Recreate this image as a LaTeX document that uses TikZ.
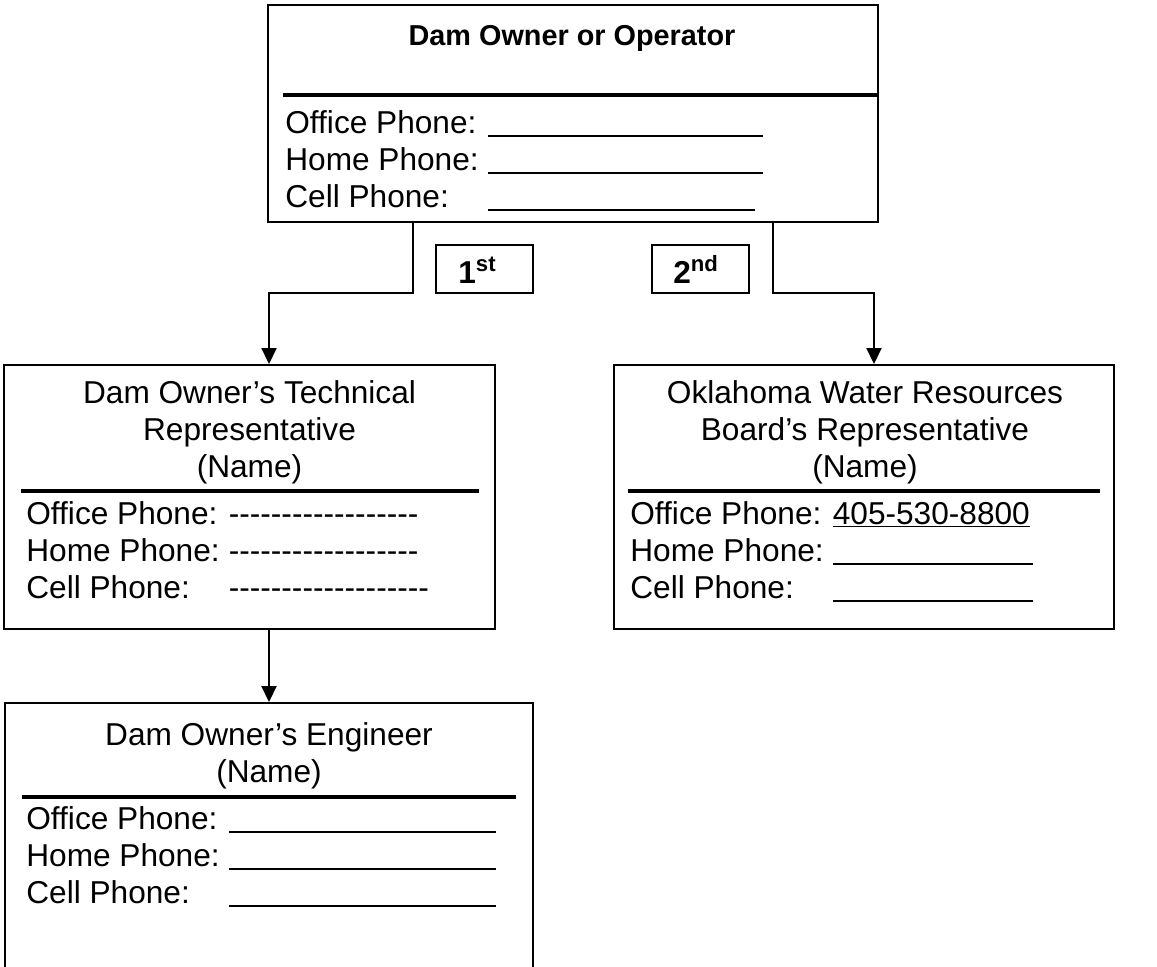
\documentclass[tikz,border=0pt]{standalone}
\usepackage{fontspec}
\setmainfont{Liberation Sans}[Ligatures=TeXOff]
\usetikzlibrary{arrows.meta}

\tikzset{
	box/.style={draw, line width=1.1pt, inner sep=0pt},
	rankbox/.style={draw, line width=1.1pt, minimum width=1.94cm, minimum height=0.96cm, inner sep=0pt},
	sepline/.style={line width=2.3pt},
	link/.style={line width=1.1pt, -{Triangle[length=0.32cm,width=0.30cm]}},
	txt/.style={font=\fontsize{18}{21}\selectfont, inner sep=0pt},
	entry/.style={txt, anchor=base west},
	boldtxt/.style={font=\fontsize{16.4}{20}\selectfont\bfseries, inner sep=0pt},
	ranktxt/.style={font=\fontsize{18}{21}\selectfont\bfseries, inner sep=0pt, anchor=base west}
}
\newcommand{\blank}[1]{\rule[-2.5pt]{#1}{1.1pt}}
\newcommand{\lbl}[1]{\makebox[4.05cm][l]{#1}}

\begin{document}
\begin{tikzpicture}
	\useasboundingbox (0,0) rectangle (23.14,-19.34);
	\clip (0,0) rectangle (23.14,-19.34);
	
	%boxes
	\node[box, minimum width=12.2cm, minimum height=4.34cm] (owner) at (11.46,-2.27) {};
	\node[rankbox] (first)  at (9.69,-5.38)  {};
	\node[rankbox] (second) at (14.01,-5.38) {};
	\node[box, minimum width=9.82cm, minimum height=5.28cm]  (tech) at (4.99,-9.94)  {};
	\node[box, minimum width=10.0cm, minimum height=5.28cm]  (owrb) at (17.28,-9.94) {};
	\node[box, minimum width=10.56cm, minimum height=5.54cm] (eng)  at (5.38,-16.83) {};	%runs off the page
	
	%separators
	\draw[sepline] (5.66,-1.90)  -- (17.54,-1.90);
	\draw[sepline] (0.42,-9.82)  -- (9.58,-9.82);
	\draw[sepline] (12.56,-9.82) -- (22.0,-9.82);
	\draw[sepline] (0.44,-15.94) -- (10.32,-15.94);
	
	%links
	\coordinate (lbend) at (8.26,-5.86);
	\coordinate (ldrop) at (5.38,-5.86);
	\coordinate (rbend) at (15.46,-5.86);
	\coordinate (rdrop) at (17.48,-5.86);
	\draw[link] (owner.south -| lbend) -- (lbend) -- (ldrop) -- (tech.north -| ldrop);
	\draw[link] (owner.south -| rbend) -- (rbend) -- (rdrop) -- (owrb.north -| rdrop);
	\draw[link] (tech.south -| eng.north) -- (eng.north);
	
	%owner
	\node[boldtxt] (ownerTitle) at (11.44,-0.76) {Dam Owner or Operator};
	\node[entry] (ownerOffice) at (5.70,-2.66) {\lbl{Office Phone:}\blank{5.5cm}};
	\node[entry] (ownerHome)   at (5.70,-3.40) {\lbl{Home Phone:}\blank{5.5cm}};
	\node[entry] (ownerCell)   at (5.70,-4.14) {\lbl{Cell Phone:}\blank{5.35cm}};
	
	%order labels
	\node[ranktxt] (firstLbl)  at (9.16,-5.66)  {1\textsuperscript{st}};
	\node[ranktxt] (secondLbl) at (13.46,-5.66) {2\textsuperscript{nd}};
	
	%technical representative
	\node[txt, align=center] (techTitle) at (4.99,-8.64) {Dam Owner’s Technical\\Representative\\(Name)};
	\node[entry] (techOffice) at (0.52,-10.48) {\lbl{Office Phone:}------------------};
	\node[entry] (techHome)   at (0.52,-11.22) {\lbl{Home Phone:}------------------};
	\node[entry] (techCell)   at (0.52,-11.96) {\lbl{Cell Phone:}-------------------};
	
	%board representative
	\node[txt, align=center] (owrbTitle) at (17.30,-8.64) {Oklahoma Water Resources\\Board’s Representative\\(Name)};
	\node[entry] (owrbOffice) at (12.60,-10.48) {\lbl{Office Phone:}\underline{405-530-8800}};
	\node[entry] (owrbHome)   at (12.60,-11.22) {\lbl{Home Phone:}\blank{4.0cm}};
	\node[entry] (owrbCell)   at (12.60,-11.96) {\lbl{Cell Phone:}\blank{4.0cm}};
	
	%engineer
	\node[txt, align=center] (engTitle) at (5.38,-15.11) {Dam Owner’s Engineer\\(Name)};
	\node[entry] (engOffice) at (0.52,-16.58) {\lbl{Office Phone:}\blank{5.34cm}};
	\node[entry] (engHome)   at (0.52,-17.32) {\lbl{Home Phone:}\blank{5.34cm}};
	\node[entry] (engCell)   at (0.52,-18.06) {\lbl{Cell Phone:}\blank{5.34cm}};
\end{tikzpicture}
\end{document}
